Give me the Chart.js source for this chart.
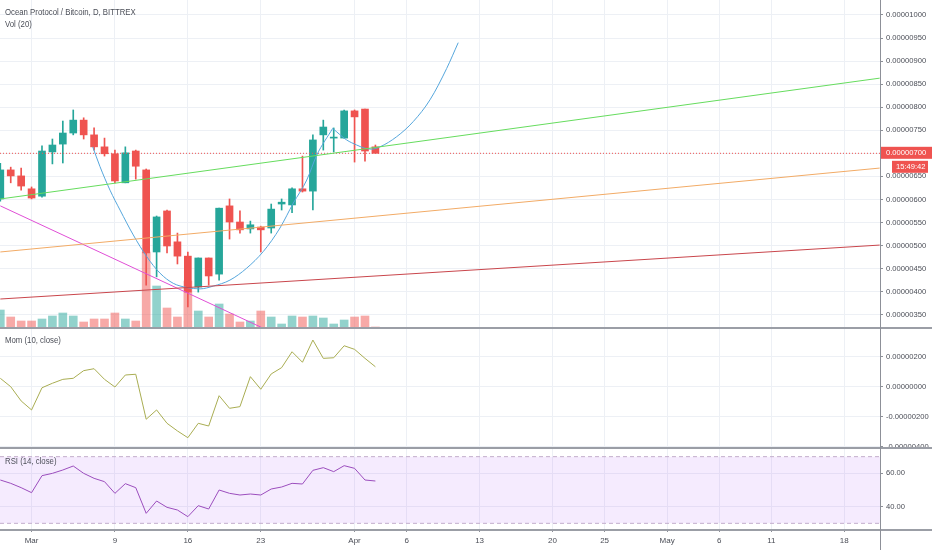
<!DOCTYPE html>
<html>
<head>
<meta charset="utf-8">
<script src="https://cdn.jsdelivr.net/npm/chart.js@4.4.1/dist/chart.umd.min.js"></script>
<style>
  html, body { margin: 0; padding: 0; background: #fff; }
  #wrap { position: relative; width: 932px; height: 550px; overflow: hidden;
          font-family: "Liberation Sans Narrow", "Liberation Sans", Arial, sans-serif; }
  .pane { position: absolute; left: 0; width: 932px; }
  .pane canvas { display: block; }
  .sep { position: absolute; left: 0; width: 932px; height: 2px; background: #9b9ea6; z-index: 2; }
  .vline { position: absolute; left: 880px; top: 0; width: 1px; height: 550px; background: #8d9098; z-index: 2; }
  .lbl { position: absolute; left: 5px; font-size: 9.5px; line-height: 12px; color: #4c4f58; white-space: nowrap;
         z-index: 3; transform: scaleX(0.82); transform-origin: left center; }
</style>
</head>
<body>
<div id="wrap">
  <div class="pane" style="top:0;height:327px"><canvas id="mainChart" width="932" height="327"></canvas></div>
  <div class="sep" style="top:327px"></div>
  <div class="pane" style="top:329px;height:118px"><canvas id="momChart" width="932" height="118"></canvas></div>
  <div class="sep" style="top:447px"></div>
  <div class="pane" style="top:449px;height:101px"><canvas id="rsiChart" width="932" height="101"></canvas></div>
  <div class="sep" style="top:529px"></div>
  <div class="vline"></div>
  <div class="lbl" style="top:6px">Ocean Protocol / Bitcoin, D, BITTREX</div>
  <div class="lbl" style="top:18px">Vol (20)</div>
  <div class="lbl" style="top:334px">Mom (10, close)</div>
  <div class="lbl" style="top:455px">RSI (14, close)</div>
</div>
<script>
// Daily candles, OCEAN/BTC (prices in 1e-8 BTC)
const dates = ['2020-02-27','2020-02-28','2020-02-29','2020-03-01','2020-03-02','2020-03-03','2020-03-04','2020-03-05',
  '2020-03-06','2020-03-07','2020-03-08','2020-03-09','2020-03-10','2020-03-11','2020-03-12','2020-03-13','2020-03-14',
  '2020-03-15','2020-03-16','2020-03-17','2020-03-18','2020-03-19','2020-03-20','2020-03-21','2020-03-22','2020-03-23',
  '2020-03-24','2020-03-25','2020-03-26','2020-03-27','2020-03-28','2020-03-29','2020-03-30','2020-03-31','2020-04-01',
  '2020-04-02','2020-04-03'];
const opens  = [601,664,651,623,607,703,720,744,772,740,714,699,636,705,664,486,575,508,477,410,473,438,586,551,536,540,538,590,588,623,618,740,733,733,792,796,714];
const highs  = [678,670,668,627,716,731,770,794,777,755,733,707,714,707,666,564,577,527,486,473,473,581,601,575,553,542,590,601,625,694,740,772,755,794,794,796,718];
const lows   = [596,636,620,601,605,677,679,740,731,707,694,636,636,644,414,432,484,460,367,399,414,425,514,527,527,486,527,577,571,616,577,707,703,733,681,683,701];
const closes = [664,651,629,603,705,718,744,772,740,714,699,640,701,672,484,562,499,477,399,473,434,581,551,534,545,534,579,594,623,618,729,757,735,792,779,705,700];
const volumes = [1.7,1.0,0.6,0.6,0.8,1.1,1.4,1.1,0.5,0.8,0.8,1.4,0.8,0.6,7.5,4.1,1.9,1.0,4.6,1.6,1.0,2.3,1.3,0.5,0.6,1.6,1.0,0.3,1.1,1.0,1.1,0.9,0.3,0.7,1.0,1.1,0];
const mom = [56,0,-95,-155,-7,23,49,56,107,120,49,-2,78,83,-217,-155,-244,-295,-340,-244,-262,-60,-144,-133,67,-17,85,127,233,163,311,189,193,273,249,189,133];
const rsi = [56.0,54.0,51.4,48.4,58.6,60.0,62.0,64.4,60.0,57.0,55.0,48.0,53.8,51.4,36.0,43.4,39.6,38.0,34.0,40.6,38.6,50.0,48.0,47.0,47.6,47.0,50.6,51.8,54.0,53.6,61.8,63.4,61.0,64.6,63.0,56.0,55.4];

// x axis ticks (day index, 0 = Feb 27)
const tickDays   = [3, 11, 18, 25, 34, 39, 46, 53, 58, 64, 69, 74, 81];
const tickLabels = ['Mar', '9', '16', '23', 'Apr', '6', '13', '20', '25', 'May', '6', '11', '18'];
const priceTicks = [350, 400, 450, 500, 550, 600, 650, 700, 750, 800, 850, 900, 950, 1000];
const momTicks = [-400, -200, 0, 200];
const rsiTicks = [40, 60];
const rsiBands = [70, 30];

// drawings (day index, price)
const greenLine   = [[0, 601], [84.4, 863]];
const orangeLine  = [[0, 486], [84.4, 668]];
const redLine     = [[0, 384], [84.4, 501]];
const magentaLine = [[0, 586], [25.2, 321]];
const cupCurve = [[8.87,714],[9.57,671],[10.53,620],[11.49,577],[12.76,523],[14.05,476],[15.33,440],[16.6,418],
  [17.89,409],[19.17,406],[20.44,412],[22.04,425],[23.65,451],[25.24,487],[26.84,538],[28.12,592],[29.41,642],
  [30.37,696],[31.9,754]];
const handleCurve = [[31.9,754],[33.24,729],[34.2,718],[35.0,711],[35.64,709],[36.44,714],[38.04,736],[39.64,769],
  [41.24,816],[42.84,884],[43.95,940]];

const lastClose = closes[closes.length - 1];
const countdown = '15:49:42';

const xMin = -0.03, xMax = 84.43;
const FONT = '"Liberation Sans Narrow", "Liberation Sans", Arial, sans-serif';
const UP = '#26a69a', DOWN = '#ef5350';
const GRID = '#edf0f5', AXIS = '#8d9098', TEXT = '#4a4d56';

Chart.defaults.animation = false;
Chart.defaults.font.family = FONT;
Chart.defaults.font.size = 7.6;
Chart.defaults.color = TEXT;
Chart.defaults.plugins.legend.display = false;
Chart.defaults.plugins.tooltip.enabled = false;

const candleColors = closes.map((c, i) => c >= opens[i] ? UP : DOWN);
const volColors = closes.map((c, i) => c >= opens[i] ? 'rgba(38,166,154,0.5)' : 'rgba(239,83,80,0.5)');
const pts = arr => arr.map(p => ({x: p[0], y: p[1]}));
const series = arr => arr.map((v, i) => ({x: i, y: v}));

function drawing(points, color, extra) {
  return Object.assign({type: 'line', data: pts(points), borderColor: color, borderWidth: 1,
    pointRadius: 0, order: 0, yAxisID: 'y'}, extra || {});
}

function xScale(showLabels) {
  return {
    type: 'linear', min: xMin, max: xMax, offset: false,
    grid: {color: GRID, offset: false, drawTicks: showLabels, tickLength: 3, tickColor: AXIS},
    border: {display: false},
    ticks: {display: showLabels, autoSkip: false, maxRotation: 0, padding: 4, font: {size: 8},
      callback: v => tickLabels[tickDays.indexOf(v)]},
    afterBuildTicks: s => { s.ticks = tickDays.map(v => ({value: v})); },
    afterFit: s => { s.height = showLabels ? 21 : 0; }
  };
}

function yScale(min, max, ticks, fmt) {
  return {
    position: 'right', min: min, max: max,
    grid: {color: GRID, tickLength: 3, tickColor: AXIS},
    border: {display: false},
    ticks: {padding: 3, callback: fmt},
    afterBuildTicks: s => { s.ticks = ticks.map(v => ({value: v})); },
    afterFit: s => { s.width = 52; s.paddingTop = 0; s.paddingBottom = 0; }
  };
}

const sats = v => (v * 1e-8).toFixed(8);

// price tag on the right axis
const priceTag = {
  id: 'priceTag',
  afterDraw(chart) {
    const y = chart.scales.y.getPixelForValue(lastClose);
    const ctx = chart.ctx;
    ctx.save();
    ctx.fillStyle = DOWN;
    ctx.fillRect(880, y - 6.5, 52, 12);
    ctx.fillRect(892, y + 7.5, 36, 12);
    ctx.fillStyle = '#fff';
    ctx.font = '7.6px ' + FONT;
    ctx.textBaseline = 'middle';
    ctx.fillText(sats(lastClose), 886, y);
    ctx.fillText(countdown, 896, y + 13.5);
    ctx.restore();
  }
};

new Chart(document.getElementById('mainChart'), {
  type: 'bar',
  data: {
    datasets: [
      drawing(greenLine, '#66dc5e'),
      drawing(orangeLine, '#f2ab66'),
      drawing(redLine, '#c9464c'),
      drawing(magentaLine, '#e04fd6'),
      drawing(cupCurve, '#55a6dc', {cubicInterpolationMode: 'monotone'}),
      drawing(handleCurve, '#55a6dc', {cubicInterpolationMode: 'monotone'}),
      drawing([[xMin, lastClose], [xMax, lastClose]], DOWN, {borderDash: [1, 2]}),
      {type: 'bar', data: closes.map((c, i) => ({x: i, y: [opens[i], c]})), backgroundColor: candleColors,
        barThickness: 7, minBarLength: 1, grouped: false, order: 1, yAxisID: 'y'},
      {type: 'bar', data: closes.map((c, i) => ({x: i, y: [lows[i], highs[i]]})), backgroundColor: candleColors,
        barThickness: 1, grouped: false, order: 2, yAxisID: 'y'},
      {type: 'bar', data: series(volumes), backgroundColor: volColors,
        barThickness: 8, grouped: false, order: 3, yAxisID: 'yv'}
    ]
  },
  options: {
    responsive: false,
    layout: {padding: 0, autoPadding: false},
    scales: {
      x: xScale(false),
      y: yScale(323.3, 1032.5, priceTicks, sats),
      yv: {display: false, min: 0, max: 32.7}
    }
  },
  plugins: [priceTag]
});

new Chart(document.getElementById('momChart'), {
  type: 'line',
  data: {datasets: [{data: series(mom), borderColor: '#a9ad52', borderWidth: 1, pointRadius: 0}]},
  options: {
    responsive: false,
    layout: {padding: 0, autoPadding: false},
    scales: {x: xScale(false), y: yScale(-402, 384.7, momTicks, sats)}
  }
});

new Chart(document.getElementById('rsiChart'), {
  type: 'line',
  data: {
    datasets: [
      {data: series(rsi), borderColor: '#9b4dbd', borderWidth: 1, pointRadius: 0, order: 0},
      {data: [{x: xMin, y: rsiBands[0]}, {x: xMax, y: rsiBands[0]}], borderColor: '#c3aecd', borderWidth: 1,
        borderDash: [4, 3], pointRadius: 0, order: 1},
      {data: [{x: xMin, y: rsiBands[1]}, {x: xMax, y: rsiBands[1]}], borderColor: '#c3aecd', borderWidth: 1,
        borderDash: [4, 3], pointRadius: 0, order: 2, fill: 1, backgroundColor: 'rgba(160,70,250,0.11)'}
    ]
  },
  options: {
    responsive: false,
    layout: {padding: 0, autoPadding: false},
    scales: {x: xScale(true), y: yScale(26.6, 74.6, rsiTicks, v => v.toFixed(2))}
  }
});
</script>
</body>
</html>
